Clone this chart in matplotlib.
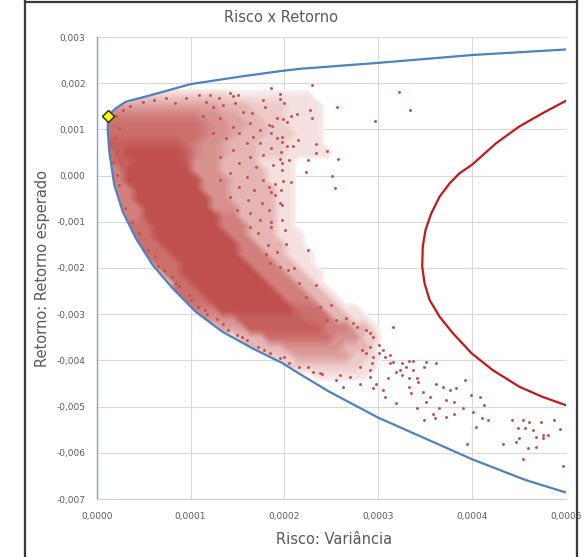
import numpy as np
import matplotlib
matplotlib.use("Agg")
import matplotlib.pyplot as plt
from matplotlib.ticker import FuncFormatter, MultipleLocator
from matplotlib.lines import Line2D
from matplotlib.patches import Polygon

# ---- data (variance in 1e-6 units, return in 1e-5 units) ----
# efficient frontier (blue)
frontier_var_e6 = [500, 400, 300, 216, 195, 152, 100, 77, 52, 31, 20.5, 12.3, 11.7, 13.4, 18.7, 27.7,
                   41.8, 59.6, 80.9, 105.6, 134, 166, 198, 212, 248, 300, 400, 457, 500]
frontier_ret_e5 = [273, 261, 244, 231, 226, 214, 198, 185, 171, 160, 146, 130, 100, 52, -20, -78,
                   -136, -193.5, -244, -295, -338, -374, -406, -424, -468, -524, -614, -659, -686]
# second curve (red)
curve2_var_e6 = [500, 475, 450, 425.5, 399.6, 386.5, 375.9, 365.2, 356.4, 350.3, 347.4, 346.8, 349.3,
                 354.6, 365.2, 379.4, 399.6, 421.9, 450.3, 475, 500]
curve2_ret_e5 = [162, 135, 106, 70, 23, 5, -17, -46, -82, -118, -154, -197, -233,
                 -269, -305, -341, -385, -421, -457, -479, -497]
# minimum-variance portfolio (yellow diamond)
minvar_var_e6 = [12.3]
minvar_ret_e5 = [130]

# density of the simulated-portfolio cloud (0-9) at grid nodes spaced 1e-5 in variance
# (from 5e-6) and 2e-4 in return (from 0.0019 at the top down to -0.0045)
cloud_density_rows = [
    "00000000000000000000000000000000",
    "00002222222222111111111000000000",
    "00444444444443332222111100000000",
    "06666666666554433222111100000000",
    "07777777777655443322111100000000",
    "07777777777655433322211100000000",
    "08888888876554333222111100000000",
    "07899999986554333222111110000000",
    "06889999985553333111100000000000",
    "06699999995553333311100000000000",
    "06699999999555333311100000000000",
    "06669999999555333331100000000000",
    "00669999999955333331100000000000",
    "00666999999955533331100000000000",
    "00066999999996633331100000000000",
    "00077799999996663331100000000000",
    "00007799999999663331110000000000",
    "00007779999999966333110000000000",
    "00000777999999966633111000000000",
    "00000077799999996663311000000000",
    "00000007799999999666331100000000",
    "00000000779999999966633100000000",
    "00000000777999999996663310000000",
    "00000000077799999999666331000000",
    "00000000006669999999977733110000",
    "00000000000555588888887773311000",
    "00000000000004448888888866633100",
    "00000000000000033377777775552200",
    "00000000000000003333555555333100",
    "00000000000000000022244444422100",
    "00000000000000000000222222221100",
    "00000000000000000000000111111000",
    "00000000000000000000000000000000",
]
cloud_var_first, cloud_var_step = 5e-6, 1e-5
cloud_ret_first, cloud_ret_step = 0.0019, -0.0002

# individual scattered portfolios
pts_var_e6 = [
    186, 195, 195, 200, 229, 227, 229, 256, 322, 334, 296, 192, 199, 203, 207, 213, 187, 186, 192, 197,
    197, 215, 186, 203, 209, 234, 234, 245, 196, 195, 205, 225, 257, 188, 197, 197, 223, 251, 198, 207,
    254, 190, 186, 196, 190, 195, 197, 186, 201,
    121, 142, 151, 147, 135, 124, 113, 131, 156, 165, 177, 179, 163, 145, 174, 184, 152, 167, 138, 124,
    160, 174, 145, 163, 177, 131, 152, 170, 142, 160, 177, 131, 152, 168, 184, 142, 161, 176, 184, 149,
    163, 174, 197,
    36, 49, 61, 74, 83, 95, 109, 116, 130, 145, 28, 21, 24, 19, 21, 17, 22, 24,
    30, 38, 45, 55, 62, 72, 80, 88, 98, 108, 118, 128, 140, 150, 160, 172, 185, 195, 205, 225, 240, 100,
    115, 135, 155, 178, 200, 230, 65, 85,
    202, 192, 183, 225, 204, 210, 195, 216, 234, 223, 238, 250, 245, 255, 266, 273, 287, 294, 291, 283,
    294, 280, 216, 238, 259, 163, 172, 186, 180, 185,
    316, 301, 301, 307, 293, 312, 325, 333, 337, 351, 362, 349, 319, 325, 341, 333, 342, 310, 298, 291,
    305, 307, 319, 335, 348, 355, 362, 369, 376, 383, 372, 381, 390, 365, 351, 341, 358, 360, 349, 372,
    381, 392, 399, 408, 413, 401, 410, 417, 404, 394, 433, 442, 454, 461, 473, 487, 449, 456, 465, 475,
    481, 468, 475, 450, 447, 459, 468, 454, 494, 497,
    277, 291, 305, 287, 312, 316, 323, 330, 337, 333, 291, 280, 294, 270, 262, 255,
]
pts_ret_e5 = [
    189, 176, 165, 157, 196, 142, 124, 148, 182, 142, 118, 125, 122, 117, 129, 133, 108, 92, 81, 83,
    73, 77, 59, 65, 63, 69, 48, 53, 52, 36, 34, 34, 36, 23, 27, 12, 7, -1, -11, -14,
    -26, -19, -35, -31, -42, -60, -64, -100, -118,
    175, 178, 175, 157, 153, 149, 128, 124, 138, 135, 164, 149, 113, 106, 99, 110, 92, 84, 81, 92,
    70, 70, 55, 41, 45, 41, 27, 19, 5, -2, -10, -10, -24, -31, -24, -46, -53, -60, -75, -75,
    -82, -96, -96,
    150, 160, 164, 167, 157, 167, 175, 160, 167, 172, 142, 128, 102, 81, 52, 30, 1, -20,
    -70, -100, -125, -160, -175, -205, -220, -240, -258, -285, -300, -310, -335, -345, -355, -370, -385,
    -395, -405, -415, -430, -270,
    -290, -322, -350, -378, -392, -425, -195, -232,
    -147, -165, -150, -161, -204, -200, -197, -233, -237, -262, -284, -280, -313, -313, -309, -320, -334,
    -349, -370, -378, -392, -414, -414, -428, -432, -111, -125, -111, -170, -190,
    -327, -367, -385, -392, -406, -406, -406, -401, -401, -403, -406, -414, -425, -432, -439, -439, -446,
    -439, -450, -435, -464, -479, -493, -471, -468, -479, -450, -457, -464, -460, -486, -489, -504, -504,
    -489, -504, -515, -525, -529, -522, -515, -442, -475, -479, -497, -511, -525, -529, -544, -580, -580,
    -529, -528, -533, -533, -529, -547, -547, -551, -562, -562, -565, -569, -569, -576, -590, -587, -614,
    -549, -629,
    -327, -341, -378, -385, -388, -403, -421, -414, -421, -457, -421, -450, -460, -435, -457, -442,
]

# ---- figure ----
X = lambda v: np.asarray(v, dtype=float) * 1e-6
Y = lambda v: np.asarray(v, dtype=float) * 1e-5

W, H = 585, 557
fig = plt.figure(figsize=(W / 100, H / 100), dpi=100)
ax = fig.add_axes([96.7 / W, 1 - 499 / H, (566 - 96.7) / W, (499 - 37) / H])

red_rgb = (0xC0 / 255, 0x50 / 255, 0x4D / 255)
levels = np.array([[int(c) for c in row] for row in cloud_density_rows], dtype=float)
nrow, ncol = levels.shape
gx = cloud_var_first + cloud_var_step * np.arange(ncol)
gy = cloud_ret_first + cloud_ret_step * np.arange(nrow)

# many thin bands of opaque colour blended from white to red -> smooth gradient
bounds = np.linspace(0.35, 9.0, 70)
mids = (bounds[:-1] + bounds[1:]) / 2
a = np.clip(mids / 9.0, 0, 1) ** 0.8
band_colors = [tuple(1 - ai * (1 - c) for c in red_rgb) for ai in a]
cs = ax.contourf(gx, gy, levels, levels=np.append(bounds[:-1], 9.5), colors=band_colors,
                 zorder=2, antialiased=False)
cs.set_edgecolor("face")
cs.set_linewidth(0.6)
clip = Polygon(np.column_stack([X(frontier_var_e6), Y(frontier_ret_e5)]), closed=True,
               transform=ax.transData, facecolor="none", edgecolor="none")
ax.add_patch(clip)
cs.set_clip_path(clip)

ax.scatter(X(pts_var_e6), Y(pts_ret_e5), s=4.5, color=red_rgb, linewidths=0, zorder=3)

ax.plot(X(frontier_var_e6), Y(frontier_ret_e5), color="#4F81BD", lw=1.6, zorder=4,
        solid_joinstyle="round")
ax.plot(X(curve2_var_e6), Y(curve2_ret_e5), color="#C0181C", lw=1.6, zorder=4,
        solid_joinstyle="round")
ax.plot(X(minvar_var_e6), Y(minvar_ret_e5), marker="D", ms=6.5, mfc="#FFFF00", mec="#262626",
        mew=1.0, ls="none", zorder=5)

ax.set_xlim(0, 0.0005)
ax.set_ylim(-0.007, 0.003)
ax.xaxis.set_major_locator(MultipleLocator(0.0001))
ax.yaxis.set_major_locator(MultipleLocator(0.001))


def fmt(dec):
    def f(v, pos):
        v = round(v, 8)
        if abs(v) < 1e-12:
            v = 0.0
        return f"{v:.{dec}f}".replace(".", ",")
    return f


ax.xaxis.set_major_formatter(FuncFormatter(fmt(4)))
ax.yaxis.set_major_formatter(FuncFormatter(fmt(3)))
ax.grid(True, color="#D9D9D9", lw=0.8)
ax.set_axisbelow(True)
for s in ["top", "right"]:
    ax.spines[s].set_visible(False)
ax.spines["left"].set_color("#7FA2D6")
ax.spines["left"].set_linewidth(1.0)
ax.spines["bottom"].set_color("#D0D0D0")
ax.spines["bottom"].set_linewidth(0.8)
ax.tick_params(axis="both", length=0, labelsize=6.5, labelcolor="#595959")
ax.tick_params(axis="x", pad=9)
ax.tick_params(axis="y", pad=8)

fig.text(281 / W, 1 - 17 / H, "Risco x Retorno", ha="center", va="center", fontsize=10.5,
         color="#595959")
fig.text(334 / W, 1 - 540 / H, "Risco: Variância", ha="center", va="center", fontsize=10.5,
         color="#595959")
fig.text(43 / W, 1 - 268 / H, "Retorno: Retorno esperado", ha="center", va="center",
         rotation=90, fontsize=10.5, color="#595959")

# outer chart frame
for xs, ys in [([25, 25], [0, H]), ([25, 577], [1.5, 1.5]), ([577, 577], [0, H])]:
    fig.add_artist(Line2D([x / W for x in xs], [1 - y / H for y in ys], color="#3A3A3A", lw=1.6))

fig.savefig("out.png", dpi=100)
